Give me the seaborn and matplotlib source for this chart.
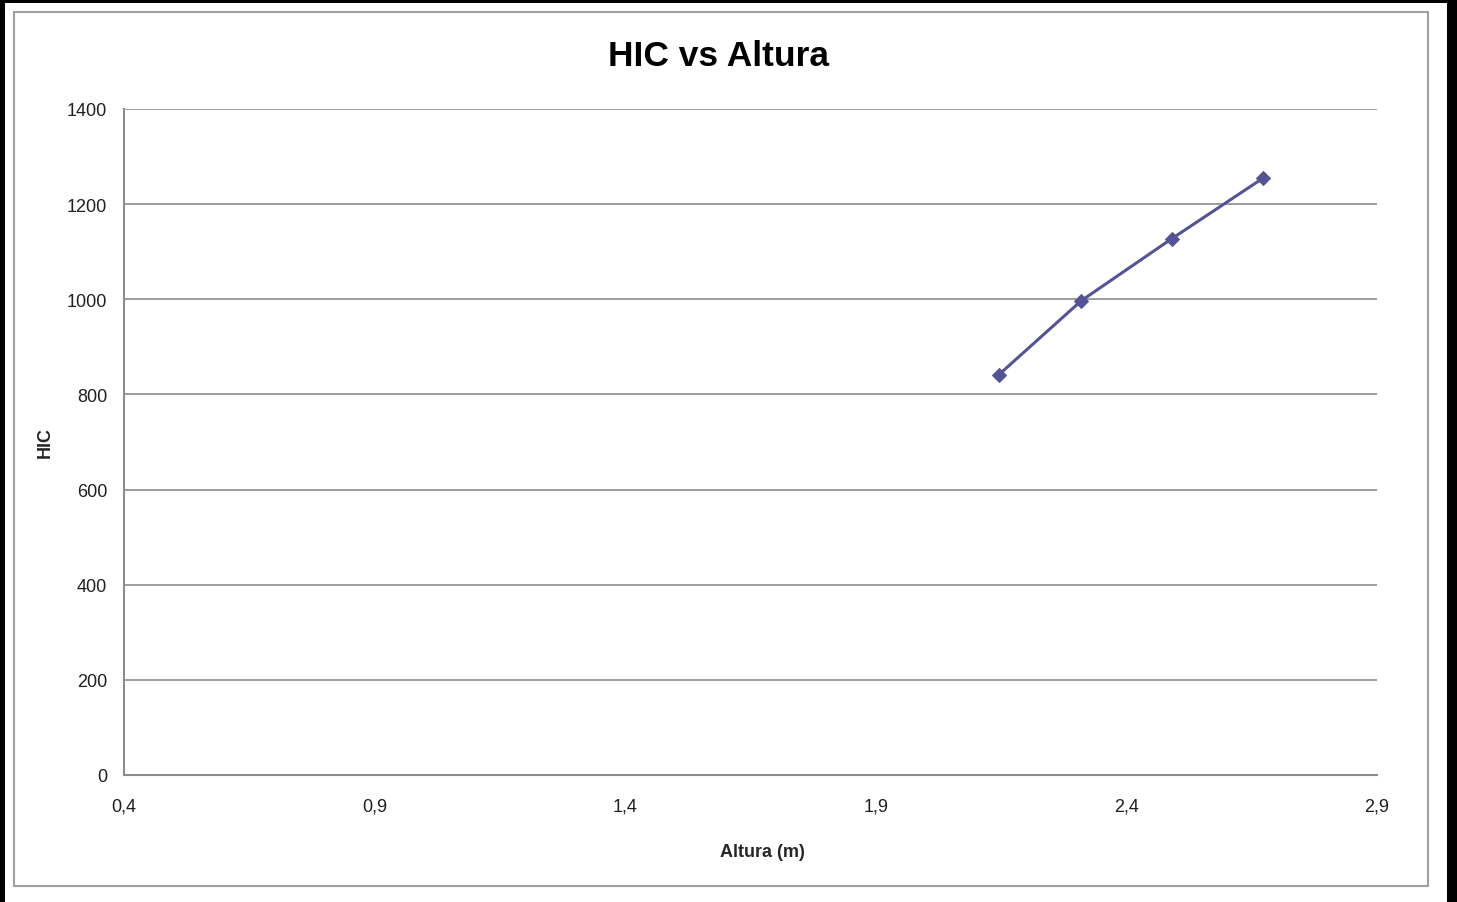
import matplotlib
matplotlib.use("Agg")
import matplotlib.pyplot as plt
from matplotlib.patches import Rectangle
import pandas as pd
import seaborn as sns

# data
altura = [2.145, 2.31, 2.49, 2.673]
hic = [841, 997, 1127, 1255]

x_ticks = [0.4, 0.9, 1.4, 1.9, 2.4, 2.9]
x_tick_labels = ["0,4", "0,9", "1,4", "1,9", "2,4", "2,9"]
y_ticks = [0, 200, 400, 600, 800, 1000, 1200, 1400]

LINE_COLOR = "#545494"
GRID_COLOR = "#8c8c8c"

df = pd.DataFrame({"Altura (m)": altura, "HIC": hic})

sns.set_theme(style="white")
plt.rcParams["font.family"] = ["Liberation Sans", "DejaVu Sans"]

W, H = 1457, 903
fig = plt.figure(figsize=(W / 100, H / 100), dpi=100)
fig.patch.set_facecolor("black")

# white background inside the black frame (black at left, top and right)
fig.add_artist(Rectangle((5 / W, 0), (1447 - 5) / W, (H - 4) / H,
                         transform=fig.transFigure, facecolor="white",
                         edgecolor="none", zorder=0))
# thin gray chart border
fig.add_artist(Rectangle((14 / W, (H - 887) / H), (1428 - 14) / W, (887 - 13) / H,
                         transform=fig.transFigure, facecolor="none",
                         edgecolor="#a0a0a0", linewidth=1.5, zorder=1))

ax = fig.add_axes([124 / W, 1 - 776 / H, (1377 - 124) / W, (776 - 110) / H])
ax.set_facecolor("white")

sns.lineplot(data=df, x="Altura (m)", y="HIC", ax=ax, color=LINE_COLOR,
             linewidth=2.2, marker="D", markersize=7.5,
             markeredgecolor=LINE_COLOR, markerfacecolor=LINE_COLOR, zorder=3)

ax.set_xlim(0.4, 2.9)
ax.set_ylim(0, 1400)
ax.set_xticks(x_ticks)
ax.set_xticklabels(x_tick_labels)
ax.set_yticks(y_ticks)

ax.yaxis.grid(True, color=GRID_COLOR, linewidth=1.2)
ax.xaxis.grid(False)
for side in ["top", "right"]:
    ax.spines[side].set_visible(False)
for side in ["left", "bottom"]:
    ax.spines[side].set_color(GRID_COLOR)
    ax.spines[side].set_linewidth(1.5)

ax.tick_params(axis="both", which="major", direction="out", length=5,
               width=1.2, color=GRID_COLOR, labelsize=13, labelcolor="#202020")
ax.tick_params(axis="y", pad=7)
ax.tick_params(axis="x", pad=11)

ax.set_xlabel("Altura (m)", fontsize=13, fontweight="bold")
ax.set_ylabel("HIC", fontsize=13, fontweight="bold")
ax.xaxis.set_label_coords((762 - 124) / (1377 - 124), -(853 - 776) / (776 - 110))
ax.yaxis.set_label_coords(-(124 - 45) / (1377 - 124), (776 - 443) / (776 - 110))
ax.xaxis.label.set_va("center")
ax.yaxis.label.set_va("center")

fig.text(719 / W, 1 - 56 / H, "HIC vs Altura", fontsize=25.5,
         fontweight="bold", ha="center", va="center", color="black")

fig.savefig("out.png", dpi=100, facecolor=fig.get_facecolor())
